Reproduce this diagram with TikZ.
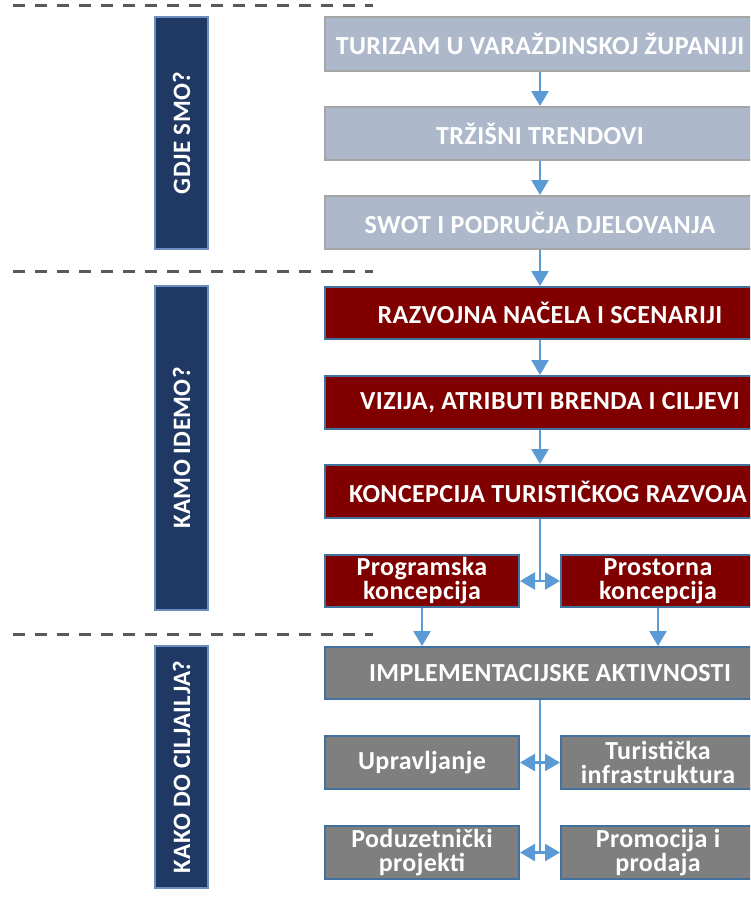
\documentclass[tikz,border=0pt]{standalone}
\usepackage{fontspec}
\setmainfont{Carlito}
\newfontfamily\boxfont[LetterSpace=1.5]{Carlito}
\usetikzlibrary{arrows.meta,calc}
\definecolor{navyfill}{HTML}{1F3864}
\definecolor{navyline}{HTML}{6C8EBF}
\definecolor{bgfill}{HTML}{ADB9CA}
\definecolor{bgline}{HTML}{A5A5A5}
\definecolor{redfill}{HTML}{800000}
\definecolor{boxline}{HTML}{41719C}
\definecolor{grayfill}{HTML}{7F7F7F}
\definecolor{arrowblue}{HTML}{5B9BD5}
\definecolor{dashgray}{HTML}{595959}
\tikzset{
  box/.style={draw, line width=2pt, inner sep=0pt, text=white, align=center,
    font=\boxfont\bfseries\fontsize{26}{24}\selectfont},
  bgbox/.style={box, fill=bgfill, draw=bgline},
  redbox/.style={box, fill=redfill, draw=boxline},
  graybox/.style={box, fill=grayfill, draw=boxline},
  navybox/.style={draw=navyline, fill=navyfill, line width=2pt},
  sidelabel/.style={rotate=90, text=white, font=\boxfont\bfseries\fontsize{25}{25}\selectfont},
  arr/.style={draw=arrowblue, line width=2.5pt, -{Triangle[width=17pt,length=15pt]}},
  darr/.style={draw=arrowblue, line width=2.5pt, {Triangle[width=17pt,length=15pt]}-{Triangle[width=17pt,length=15pt]}},
  ln/.style={draw=arrowblue, line width=2.5pt},
  sep/.style={draw=dashgray, line width=3pt, dash pattern=on 12pt off 10pt}
}
\begin{document}
\begin{tikzpicture}[x=1pt,y=-1pt]
\useasboundingbox (0,0) rectangle (750,902);
\clip (0,0) rectangle (750,902);
% separators
\coordinate (s1a) at (13,5); \coordinate (s1b) at (373,5);
\coordinate (s2a) at (13,271); \coordinate (s2b) at (373,271);
\coordinate (s3a) at (13,634); \coordinate (s3b) at (373,634);
\draw[sep] (s1a) -- (s1b);
\draw[sep] (s2a) -- (s2b);
\draw[sep] (s3a) -- (s3b);
% side boxes
\node[navybox, minimum width=53, minimum height=232] (n1) at (181.5,133) {};
\node[navybox, minimum width=53, minimum height=324] (n2) at (181.5,448) {};
\node[navybox, minimum width=53, minimum height=242] (n3) at (181.5,767) {};
\node[sidelabel] (l1) at (n1.center) {GDJE SMO?};
\node[sidelabel] (l2) at (n2.center) {KAMO IDEMO?};
\node[sidelabel] (l3) at (n3.center) {KAKO DO CILJAILJA?};
% right boxes
\node[bgbox, minimum width=430, minimum height=54] (b1) at (540,44) {TURIZAM U VARAŽDINSKOJ ŽUPANIJI};
\node[bgbox, minimum width=430, minimum height=53] (b2) at (540,133.5) {TRŽIŠNI TRENDOVI};
\node[bgbox, minimum width=430, minimum height=53] (b3) at (540,222.5) {SWOT I PODRUČJA DJELOVANJA};
\node[redbox, minimum width=450, minimum height=52] (r1) at (550,313) {RAZVOJNA NAČELA I SCENARIJI};
\node[redbox, minimum width=450, minimum height=53] (r2) at (550,402.5) {VIZIJA, ATRIBUTI BRENDA I CILJEVI};
\node[redbox, minimum width=446, minimum height=53] (r3) at (548,491.5) {KONCEPCIJA TURISTIČKOG RAZVOJA};
\node[redbox, minimum width=194, minimum height=52] (p1) at (422,581) {Programska\\koncepcija};
\node[redbox, minimum width=194, minimum height=52] (p2) at (658,581) {Prostorna\\koncepcija};
\node[graybox, minimum width=450, minimum height=52] (g1) at (550,673) {IMPLEMENTACIJSKE AKTIVNOSTI};
\node[graybox, minimum width=194, minimum height=53] (g2) at (422,762.5) {Upravljanje};
\node[graybox, minimum width=194, minimum height=53] (g3) at (658,762.5) {Turistička\\infrastruktura};
\node[graybox, minimum width=194, minimum height=53] (g4) at (422,852.5) {Poduzetnički\\projekti};
\node[graybox, minimum width=194, minimum height=53] (g5) at (658,852.5) {Promocija i\\prodaja};
% connectors
\draw[arr] (b1.south) -- (b2.north);
\draw[arr] (b2.south) -- (b3.north);
\draw[arr] (b3.south) -- (b3.south |- r1.north);
\draw[arr] (r1.south -| b1.south) -- (r2.north -| b1.south);
\draw[arr] (r2.south -| b1.south) -- (r3.north -| b1.south);
\coordinate (j1) at (p1.east -| b1.south);
\draw[ln] (r3.south -| b1.south) -- (j1);
\draw[darr] (p1.east) -- (p2.west);
\draw[arr] (p1.south) -- (p1.south |- g1.north);
\draw[arr] (p2.south) -- (p2.south |- g1.north);
\coordinate (j2) at (g4.east -| b1.south);
\draw[ln] (g1.south -| b1.south) -- (j2);
\draw[darr] (g2.east) -- (g3.west);
\draw[darr] (g4.east) -- (g5.west);
\end{tikzpicture}
\end{document}
